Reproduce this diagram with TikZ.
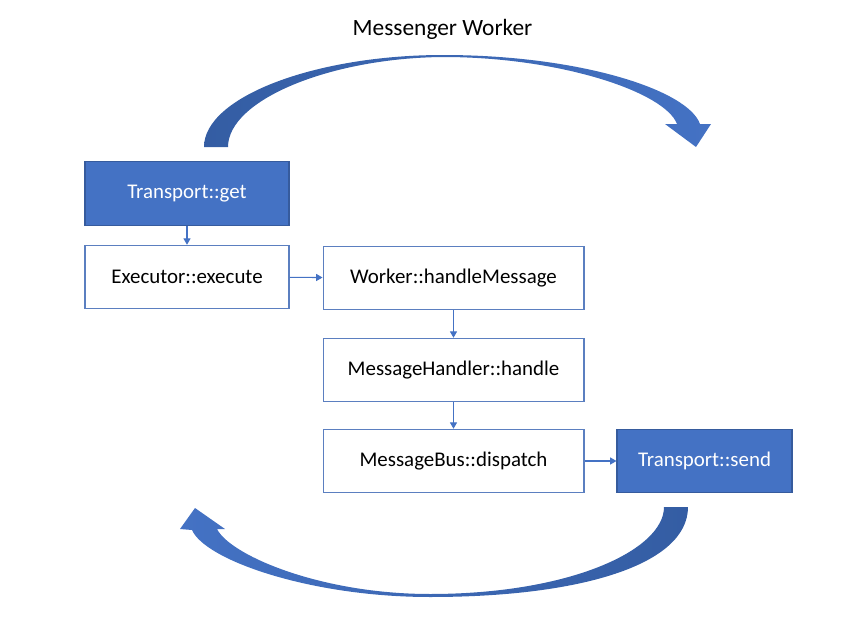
\documentclass[tikz,border=0pt]{standalone}
\usepackage{fontspec}
\setmainfont{Carlito}
\usetikzlibrary{arrows.meta}
\definecolor{officeblue}{HTML}{4472C4}
\definecolor{boxline}{HTML}{5B7FC0}
\definecolor{arrowdark}{HTML}{345DA3}
\begin{document}
\begin{tikzpicture}[x=0.02cm,y=-0.02cm,
    box/.style={draw=boxline,line width=0.6pt,fill=white,text=black,
      font=\fontsize{11.9}{14}\selectfont,inner sep=0pt,minimum height=1.27cm},
    bluebox/.style={box,draw=officeblue!80!black,fill=officeblue,text=white},
    link/.style={draw=officeblue,line width=0.6pt,-{Triangle[length=3.6pt,width=4pt]}}]
  \useasboundingbox (0,0) rectangle (863,639);
  \draw
    (442.5,35) node[anchor=base,font=\fontsize{13.3}{16}\selectfont] (title){Messenger Worker}
    (187,193.5) node[bluebox,minimum width=4.08cm] (get){Transport::get}
    (187,277) node[box,minimum width=4.08cm] (exec){Executor::execute}
    (453.5,278) node[box,minimum width=5.22cm] (worker){Worker::handleMessage}
    (453.5,370) node[box,minimum width=5.22cm] (handler){MessageHandler::handle}
    (453.5,461) node[box,minimum width=5.22cm] (bus){MessageBus::dispatch}
    (704.5,461) node[bluebox,minimum width=3.5cm] (send){Transport::send};
  \begin{scope}[link]
    \draw (get) to (exec);
    \draw (exec) to (worker);
    \draw (worker) to (handler);
    \draw (handler) to (bus);
    \draw (bus) to (send);
  \end{scope}
  \shade[left color=arrowdark,right color=officeblue]
    (204,147) .. controls (204,97) and (315,55) .. (443,55)
    .. controls (580,55) and (688,90) .. (700,124)
    -- (711,124) -- (696,147) -- (665,124) -- (677,124)
    .. controls (665,92) and (560,57) .. (443,57)
    .. controls (330,58) and (228,100) .. (228,147) -- cycle;
  \shade[left color=officeblue,right color=arrowdark]
    (664,507) .. controls (664,550) and (570,594) .. (430,594)
    .. controls (320,594) and (230,555) .. (217,529)
    -- (225,529) -- (195,508) -- (180,529) -- (192,530)
    .. controls (205,560) and (310,597) .. (430,597)
    .. controls (580,597) and (688,565) .. (688,507) -- cycle;
\end{tikzpicture}
\end{document}
